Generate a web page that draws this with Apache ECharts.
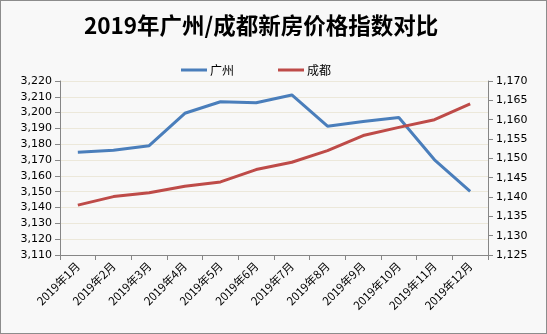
<!DOCTYPE html>
<html><head><meta charset="utf-8">
<script src="https://cdn.jsdelivr.net/npm/echarts@6/dist/echarts.min.js"></script>
<style>html,body{margin:0;padding:0;background:#fff}#c{width:547px;height:334px;box-sizing:border-box;border:1px solid #8c8c8c;background:#f8f8f8}</style>
</head><body><div id="c"></div>
<script>
const categories = ["2019年1月","2019年2月","2019年3月","2019年4月","2019年5月","2019年6月","2019年7月","2019年8月","2019年9月","2019年10月","2019年11月","2019年12月"];
const guangzhou = [3175, 3176.2, 3179.1, 3199.6, 3206.9, 3206.2, 3211.2, 3191.4, 3194.4, 3196.9, 3170.2, 3150.2];
const chengdu = [1137.9, 1140.1, 1141.1, 1142.8, 1143.9, 1147.1, 1149.0, 1152.0, 1155.9, 1158.0, 1160.0, 1164.1];
const fmt = v => v.toLocaleString('en-US');
const chart = echarts.init(document.getElementById('c'), null, {renderer:'canvas'});
const font = 'Noto Sans CJK SC';
chart.setOption({
  animation:false,
  backgroundColor:'#f8f8f8',
  title:{text:'2019年广州/成都新房价格指数对比',left:78,top:8,textStyle:{fontFamily:font,fontSize:22.5,fontWeight:'bold',color:'#000'}},
  legend:{top:58,left:175,itemGap:44,itemWidth:26,itemHeight:3,icon:'rect',textStyle:{fontFamily:font,fontSize:12,color:'#000',padding:[0,0,0,-2]},data:['广州','成都']},
  grid:{left:59,right:58,top:80,bottom:78},
  xAxis:{type:'category',data:categories,boundaryGap:true,
    axisLine:{lineStyle:{color:'#868686'}},
    axisTick:{show:true,alignWithLabel:false,length:5,lineStyle:{color:'#868686'}},
    axisLabel:{rotate:45,fontFamily:font,fontSize:11.5,color:'#000',margin:9,interval:0}},
  yAxis:[
    {type:'value',min:3110,max:3220,interval:10,position:'left',
     axisLine:{show:true,lineStyle:{color:'#868686'}},
     axisTick:{show:true,length:5,lineStyle:{color:'#868686'}},
     axisLabel:{formatter:fmt,fontFamily:'DejaVu Sans',fontSize:11,color:'#000',margin:8},
     splitLine:{show:true,lineStyle:{color:'#ece8da',width:1}}},
    {type:'value',min:1125,max:1170,interval:5,position:'right',
     axisLine:{show:true,lineStyle:{color:'#868686'}},
     axisTick:{show:true,length:5,lineStyle:{color:'#868686'}},
     axisLabel:{formatter:fmt,fontFamily:'DejaVu Sans',fontSize:11,color:'#000',margin:8},
     splitLine:{show:false}}
  ],
  series:[
    {name:'广州',type:'line',yAxisIndex:0,data:guangzhou,symbol:'none',lineStyle:{width:3,color:'#4a7ebb'},itemStyle:{color:'#4a7ebb'}},
    {name:'成都',type:'line',yAxisIndex:1,data:chengdu,symbol:'none',lineStyle:{width:3,color:'#be4b48'},itemStyle:{color:'#be4b48'}}
  ]
});
</script></body></html>
